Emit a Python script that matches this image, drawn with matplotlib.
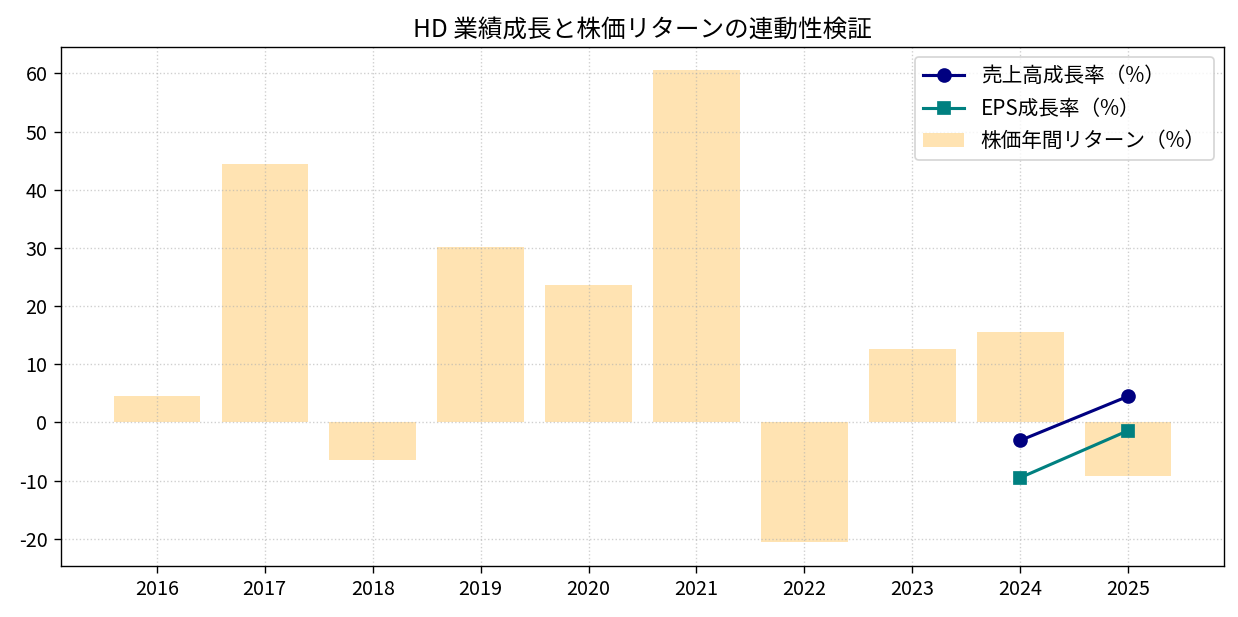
import numpy as np
import matplotlib
matplotlib.use("Agg")
import matplotlib.pyplot as plt

plt.rcParams['font.family'] = ['Noto Sans CJK JP', 'DejaVu Sans']
plt.rcParams['axes.unicode_minus'] = False
plt.rcParams['font.size'] = 12
plt.rcParams['lines.linewidth'] = 1.8
plt.rcParams['lines.markersize'] = 7.5
plt.rcParams['xtick.major.size'] = 4.2
plt.rcParams['ytick.major.size'] = 4.2

# data
years = [2016, 2017, 2018, 2019, 2020, 2021, 2022, 2023, 2024, 2025]
stock_return = [4.5, 44.4, -6.5, 30.1, 23.7, 60.5, -20.6, 12.7, 15.5, -9.3]

growth_years = [2024, 2025]
sales_growth = [-3.1, 4.5]
eps_growth = [-9.5, -1.4]

fig, ax = plt.subplots(figsize=(10, 4.984), dpi=123.8)
fig.subplots_adjust(left=0.049, right=0.989, top=0.924, bottom=0.083)

ax.bar(years, stock_return, color='orange', alpha=0.3, width=0.8,
       label='株価年間リターン（%）')
ax.plot(growth_years, sales_growth, marker='o', color='navy',
        label='売上高成長率（%）')
ax.plot(growth_years, eps_growth, marker='s', color='teal',
        label='EPS成長率（%）')

ax.set_xticks(years)
ax.tick_params(labelsize=11.5)
ax.set_title('HD 業績成長と株価リターンの連動性検証', fontsize=14.3)
ax.grid(True, linestyle=':', alpha=0.6)
ax.legend(loc='upper right', fontsize=12)

fig.savefig('out.png')
